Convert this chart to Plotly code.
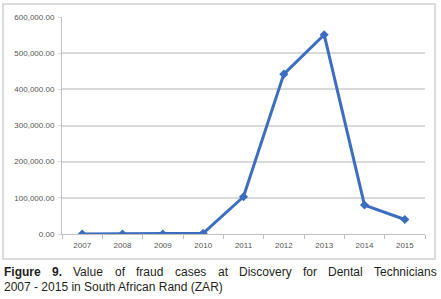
import plotly.graph_objects as go

years = ["2007", "2008", "2009", "2010", "2011", "2012", "2013", "2014", "2015"]
fraud_values = [0, 0, 0, 2000, 103000, 442000, 551000, 80000, 40000]
y_ticks = [0, 100000, 200000, 300000, 400000, 500000, 600000]
y_tick_labels = [f"{v:,.2f}" for v in y_ticks]

caption_line1_words = ["Figure", "9.", "Value", "of", "fraud", "cases", "at",
                       "Discovery", "for", "Dental", "Technicians"]
caption_line1_px = [3, 51, 72.2, 114.2, 135.4, 174.0, 216.6, 237.8, 301.8, 327.0, 373.0]
caption_line2 = "2007 - 2015 in South African Rand (ZAR)"

W, H = 441, 299
L, R, T, B = 62, 16, 17, 65
pw, ph = W - L - R, H - T - B

def px2x(px):
    return (px - L) / pw

def py2y(py):
    return (H - B - py) / ph

fig = go.Figure()
fig.add_trace(go.Scatter(
    x=years, y=fraud_values, mode="lines+markers",
    line=dict(color="#3D6DBE", width=3),
    marker=dict(symbol="diamond", size=7, color="#3D6DBE"),
    showlegend=False, hoverinfo="x+y",
))

ann = []
for w, p in zip(caption_line1_words, caption_line1_px):
    bold = w in ("Figure", "9.")
    ann.append(dict(
        x=px2x(p), y=py2y(272), xref="paper", yref="paper",
        xanchor="left", yanchor="middle", showarrow=False,
        text=f"<b>{w}</b>" if bold else w, borderpad=0,
        font=dict(family="Liberation Sans, Arial", size=12, color="#231F20"),
    ))
ann.append(dict(
    x=px2x(3), y=py2y(287), xref="paper", yref="paper",
    xanchor="left", yanchor="middle", showarrow=False, text=caption_line2, borderpad=0,
    font=dict(family="Liberation Sans, Arial", size=12, color="#231F20"),
))

tick_font = dict(family="Liberation Sans, Arial", size=8, color="#555555")

fig.update_layout(
    width=W, height=H,
    margin=dict(l=L, r=R, t=T, b=B, pad=0),
    paper_bgcolor="white", plot_bgcolor="white",
    annotations=ann,
    shapes=[dict(type="rect", xref="paper", yref="paper",
                 x0=px2x(3), x1=px2x(435), y0=py2y(259), y1=py2y(4),
                 line=dict(color="#CFCFCF", width=1.5), fillcolor="rgba(0,0,0,0)", layer="below")],
    xaxis=dict(
        type="category", range=[-0.5, 8.5],
        showgrid=False, showline=True, linecolor="#BFBFBF", linewidth=1,
        ticks="outside", tickson="boundaries", ticklen=4, tickcolor="#BFBFBF",
        tickfont=tick_font, ticklabelstandoff=3,
        zeroline=False, fixedrange=True,
    ),
    yaxis=dict(
        range=[0, 600000], tickvals=y_ticks, ticktext=y_tick_labels,
        showgrid=True, gridcolor="#D9D9D9", gridwidth=2,
        showline=True, linecolor="#BFBFBF", linewidth=1,
        ticks="outside", ticklen=3, tickcolor="#D9D9D9",
        tickfont=tick_font, ticklabelstandoff=2,
        zeroline=False, fixedrange=True,
    ),
)

fig.write_html("out.html", config={"displayModeBar": False},
               post_script="document.body.style.margin='0';document.body.style.overflow='hidden';")
